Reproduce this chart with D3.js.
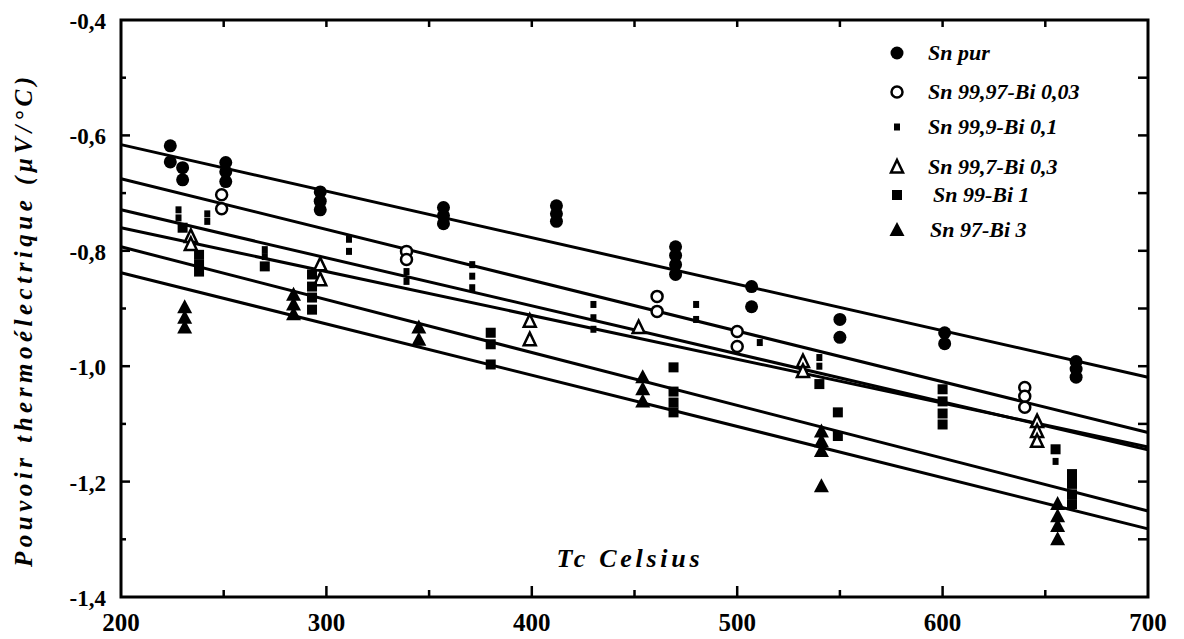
<!DOCTYPE html>
<html><head><meta charset="utf-8">
<script src="https://cdn.jsdelivr.net/npm/d3@7"></script>
<style>body{margin:0;background:#fff} svg{display:block}</style>
</head><body><svg id="c" width="1184" height="639"></svg>
<script>
const seriesNames = ["Sn pur","Sn 99,97-Bi 0,03","Sn 99,9-Bi 0,1","Sn 99,7-Bi 0,3","Sn 99-Bi 1","Sn 97-Bi 3"];
const xTickValues = [200,300,400,500,600,700];
const yTickValues = [-0.4,-0.6,-0.8,-1.0,-1.2,-1.4];
const yTickLabels = ["-0,4","-0,6","-0,8","-1,0","-1,2","-1,4"];
// regression lines: value at 200 and at 700
const fitAt200 = [-0.616,-0.675,-0.729,-0.760,-0.793,-0.838];
const fitAt700 = [-1.019,-1.115,-1.145,-1.140,-1.251,-1.282];

const snPurX = [224,224,230,230,251,251,251,297,297,297,357,357,357,412,412,412,470,470,470,470,507,507,550,550,601,601,665,665,665];
const snPurY = [-0.618,-0.646,-0.656,-0.677,-0.647,-0.663,-0.680,-0.698,-0.714,-0.729,-0.725,-0.739,-0.753,-0.722,-0.736,-0.749,-0.793,-0.808,-0.824,-0.841,-0.862,-0.897,-0.919,-0.950,-0.942,-0.961,-0.992,-1.005,-1.019];

const bi003X = [249,249,339,339,461,461,500,500,640,640,640];
const bi003Y = [-0.703,-0.727,-0.801,-0.815,-0.879,-0.905,-0.940,-0.966,-1.037,-1.052,-1.071];

const bi01X = [228,228,242,242,270,270,311,311,339,339,371,371,371,430,430,430,480,480,511,540,540,655];
const bi01Y = [-0.729,-0.743,-0.736,-0.749,-0.798,-0.810,-0.780,-0.801,-0.836,-0.853,-0.824,-0.844,-0.864,-0.893,-0.916,-0.936,-0.893,-0.919,-0.959,-0.985,-1.000,-1.165];

const bi03X = [234,234,297,297,399,399,452,532,532,646,646,646];
const bi03Y = [-0.775,-0.789,-0.824,-0.850,-0.922,-0.954,-0.933,-0.992,-1.009,-1.096,-1.113,-1.130];

const bi1X = [230,238,238,238,270,293,293,293,293,380,380,380,469,469,469,469,540,549,549,600,600,600,600,655,663,663,663,663];
const bi1Y = [-0.760,-0.807,-0.824,-0.836,-0.827,-0.841,-0.862,-0.881,-0.902,-0.942,-0.962,-0.997,-1.002,-1.044,-1.063,-1.080,-1.031,-1.080,-1.121,-1.040,-1.061,-1.082,-1.101,-1.144,-1.187,-1.204,-1.222,-1.239];

const bi3X = [231,231,231,284,284,284,345,345,454,454,454,541,541,541,541,656,656,656,656];
const bi3Y = [-0.898,-0.916,-0.933,-0.876,-0.893,-0.910,-0.933,-0.954,-1.019,-1.040,-1.061,-1.113,-1.130,-1.147,-1.208,-1.239,-1.260,-1.277,-1.300];

const seriesX = [snPurX,bi003X,bi01X,bi03X,bi1X,bi3X];
const seriesY = [snPurY,bi003Y,bi01Y,bi03Y,bi1Y,bi3Y];

const svg = d3.select("#c");
const L=121,R=1148,T=20,B=597;
const x = d3.scaleLinear().domain([200,700]).range([L,R]);
const y = d3.scaleLinear().domain([-1.4,-0.4]).range([B,T]);
const serif = "'Liberation Serif','Times New Roman',serif";

// marker drawers
const sym = [
  (g,cx,cy)=>g.append("circle").attr("cx",cx).attr("cy",cy).attr("r",6.5).attr("fill","#000"),
  (g,cx,cy)=>g.append("circle").attr("cx",cx).attr("cy",cy).attr("r",5.5).attr("fill","#fff").attr("stroke","#000").attr("stroke-width",2.5),
  (g,cx,cy)=>g.append("rect").attr("x",cx-3).attr("y",cy-3.5).attr("width",6).attr("height",7).attr("fill","#000"),
  (g,cx,cy)=>g.append("path").attr("d",`M${cx},${cy-7}L${cx+6},${cy+5.5}L${cx-6},${cy+5.5}Z`).attr("fill","#fff").attr("stroke","#000").attr("stroke-width",2.5),
  (g,cx,cy)=>g.append("rect").attr("x",cx-5).attr("y",cy-5).attr("width",10).attr("height",10).attr("fill","#000"),
  (g,cx,cy)=>g.append("path").attr("d",`M${cx},${cy-8}L${cx+7.5},${cy+6}L${cx-7.5},${cy+6}Z`).attr("fill","#000")
];

// regression lines
const lg = svg.append("g");
fitAt200.forEach((v,i)=>{
  lg.append("line").attr("x1",x(200)).attr("y1",y(v)).attr("x2",x(700)).attr("y2",y(fitAt700[i]))
    .attr("stroke","#000").attr("stroke-width",3);
});

// points
const pg = svg.append("g");
seriesX.forEach((xs,i)=>{
  xs.forEach((xv,j)=>sym[i](pg,x(xv),y(seriesY[i][j])));
});

// frame
svg.append("rect").attr("x",L).attr("y",T).attr("width",R-L).attr("height",B-T)
  .attr("fill","none").attr("stroke","#000").attr("stroke-width",3);

// ticks
const tg = svg.append("g").attr("stroke","#000").attr("stroke-width",2.5);
d3.range(200,701,50).forEach(v=>{
  const major = v%100===0;
  if(v>200 && v<700){
    tg.append("line").attr("x1",x(v)).attr("x2",x(v)).attr("y1",B).attr("y2",B-(major?11:7));
    tg.append("line").attr("x1",x(v)).attr("x2",x(v)).attr("y1",T).attr("y2",T+7);
  }
});
d3.range(-14,-3,1).forEach(k=>{
  const v=k/10; const major = (k%2===0);
  if(k>-14 && k<-4){
    tg.append("line").attr("x1",L).attr("x2",L+(major?9:5)).attr("y1",y(v)).attr("y2",y(v));
    tg.append("line").attr("x1",R).attr("x2",R-10).attr("y1",y(v)).attr("y2",y(v));
  }
});

// tick labels
const xa = svg.append("g");
xTickValues.forEach(v=>{
  xa.append("text").attr("x",x(v)).attr("y",631).attr("text-anchor","middle")
    .attr("font-family",serif).attr("font-weight","bold").attr("font-size",25).text(v);
});
yTickValues.forEach((v,i)=>{
  svg.append("text").attr("x",106).attr("y",y(v)+9).attr("text-anchor","end")
    .attr("font-family",serif).attr("font-weight","bold").attr("font-size",23).text(yTickLabels[i]);
});

// axis titles
svg.append("text").attr("transform","translate(32,322) rotate(-90)").attr("text-anchor","middle")
  .attr("font-family",serif).attr("font-weight","bold").attr("font-style","italic").attr("font-size",25)
  .attr("textLength",490).attr("lengthAdjust","spacing")
  .text("Pouvoir  thermoélectrique  (μV/°C)");
svg.append("text").attr("x",628).attr("y",567).attr("text-anchor","middle")
  .attr("font-family",serif).attr("font-weight","bold").attr("font-style","italic").attr("font-size",26)
  .attr("textLength",143).attr("lengthAdjust","spacing")
  .text("Tc  Celsius");

// legend
const legY = [53,92,127,167,195,230];
const legTX = [928,928,928,928,933,930];
const leg = svg.append("g");
seriesNames.forEach((n,i)=>{
  sym[i](leg,897,legY[i]);
  leg.append("text").attr("x",legTX[i]).attr("y",legY[i]+7)
    .attr("font-family",serif).attr("font-weight","bold").attr("font-style","italic").attr("font-size",22).text(n);
});
</script></body></html>
